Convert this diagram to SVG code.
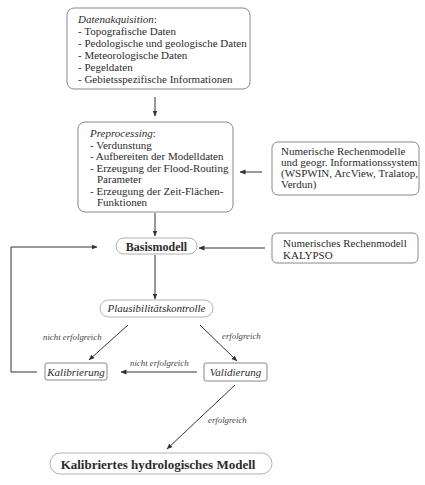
<svg xmlns="http://www.w3.org/2000/svg" width="425" height="485" viewBox="0 0 425 485">
  <defs>
    <marker id="arr" markerWidth="6" markerHeight="6" refX="5.5" refY="3" orient="auto" markerUnits="userSpaceOnUse">
      <path d="M0,0.6 L6,3 L0,5.4 Z" fill="#333"/>
    </marker>
    <style>
      text { font-family: "Liberation Serif", "Times New Roman", serif; fill: #2b2b2b; }
      .box { fill: #fff; stroke: #7a7a7a; stroke-width: 0.9; }
      .pill { fill: #fff; stroke: #a8a8a8; stroke-width: 0.9; }
      .t { font-size: 11px; }
      .it { font-style: italic; }
      .bold { font-weight: bold; }
      .lbl { font-size: 8.8px; font-style: italic; fill: #444; }
      .edge { fill: none; stroke: #333; stroke-width: 1; }
    </style>
  </defs>

  <rect width="425" height="485" fill="#fff"/>

  <!-- connectors -->
  <g id="connectors">
    <line class="edge" x1="155" y1="97" x2="155" y2="116" marker-end="url(#arr)"/>
    <line class="edge" x1="262" y1="172" x2="240" y2="172" marker-end="url(#arr)"/>
    <line class="edge" x1="155" y1="213" x2="155" y2="236" marker-end="url(#arr)"/>
    <line class="edge" x1="265" y1="248" x2="199" y2="248" marker-end="url(#arr)"/>
    <line class="edge" x1="155" y1="255" x2="155" y2="299" marker-end="url(#arr)"/>
    <line class="edge" x1="128" y1="325" x2="89" y2="360" marker-end="url(#arr)"/>
    <line class="edge" x1="200" y1="325" x2="237" y2="361" marker-end="url(#arr)"/>
    <line class="edge" x1="197" y1="372" x2="121" y2="372" marker-end="url(#arr)"/>
    <line class="edge" x1="235" y1="385" x2="167" y2="449" marker-end="url(#arr)"/>
    <polyline class="edge" points="37,372 11,372 11,247 97,247" marker-end="url(#arr)"/>
    <text class="lbl" x="43" y="340">nicht erfolgreich</text>
    <text class="lbl" x="222" y="339">erfolgreich</text>
    <text class="lbl" x="130" y="366">nicht erfolgreich</text>
    <text class="lbl" x="208" y="423">erfolgreich</text>
  </g>

  <g id="datenakquisition">
    <rect class="box" x="67" y="8" width="183" height="81" rx="7"/>
    <text class="t" x="78" y="23"><tspan class="it">Datenakquisition</tspan>:</text>
    <text class="t" x="78" y="35">- Topografische Daten</text>
    <text class="t" x="78" y="47">- Pedologische und geologische Daten</text>
    <text class="t" x="78" y="59">- Meteorologische Daten</text>
    <text class="t" x="78" y="71">- Pegeldaten</text>
    <text class="t" x="78" y="83">- Gebietsspezifische Informationen</text>
  </g>

  <g id="preprocessing">
    <rect class="box" x="78" y="122" width="155" height="90" rx="7"/>
    <text class="t" x="90" y="137"><tspan class="it">Preprocessing</tspan>:</text>
    <text class="t" x="90" y="148.5">- Verdunstung</text>
    <text class="t" x="90" y="160">- Aufbereiten der Modelldaten</text>
    <text class="t" x="90" y="171.5">- Erzeugung der Flood-Routing</text>
    <text class="t" x="97" y="183">Parameter</text>
    <text class="t" x="90" y="194.5">- Erzeugung der Zeit-Flächen-</text>
    <text class="t" x="97" y="206">Funktionen</text>
  </g>

  <g id="rechenmodelle">
    <rect class="box" x="272" y="142" width="147" height="53" rx="6"/>
    <text class="t" x="281" y="155">Numerische Rechenmodelle</text>
    <text class="t" x="281" y="166">und geogr. Informationssystem</text>
    <text class="t" x="281" y="177">(WSPWIN, ArcView, Tralatop,</text>
    <text class="t" x="281" y="188">Verdun)</text>
  </g>

  <g id="basismodell">
    <rect class="pill" x="116" y="238" width="81" height="16" rx="8"/>
    <text class="bold" x="156.5" y="251" font-size="12" text-anchor="middle">Basismodell</text>
  </g>

  <g id="kalypso">
    <rect class="box" x="272" y="233" width="146" height="30" rx="5"/>
    <text class="t" x="283" y="247">Numerisches Rechenmodell</text>
    <text class="t" x="283" y="259">KALYPSO</text>
  </g>

  <g id="plausibilitaet">
    <rect class="pill" x="100" y="300" width="113" height="17" rx="8.5"/>
    <text class="t it" x="156.5" y="312" text-anchor="middle">Plausibilitätskontrolle</text>
  </g>

  <g id="kalibrierung">
    <rect class="box" x="45" y="363" width="62" height="17" rx="2"/>
    <text class="t it" x="76" y="375.5" text-anchor="middle">Kalibrierung</text>
  </g>

  <g id="validierung">
    <rect class="box" x="204" y="363" width="63" height="18" rx="2"/>
    <text class="t it" x="235.5" y="376" text-anchor="middle">Validierung</text>
  </g>

  <g id="kalibriertes-modell">
    <rect class="pill" x="50" y="453" width="222" height="21" rx="10.5"/>
    <text class="bold" x="158" y="468.5" font-size="13" text-anchor="middle">Kalibriertes hydrologisches Modell</text>
  </g>
</svg>
